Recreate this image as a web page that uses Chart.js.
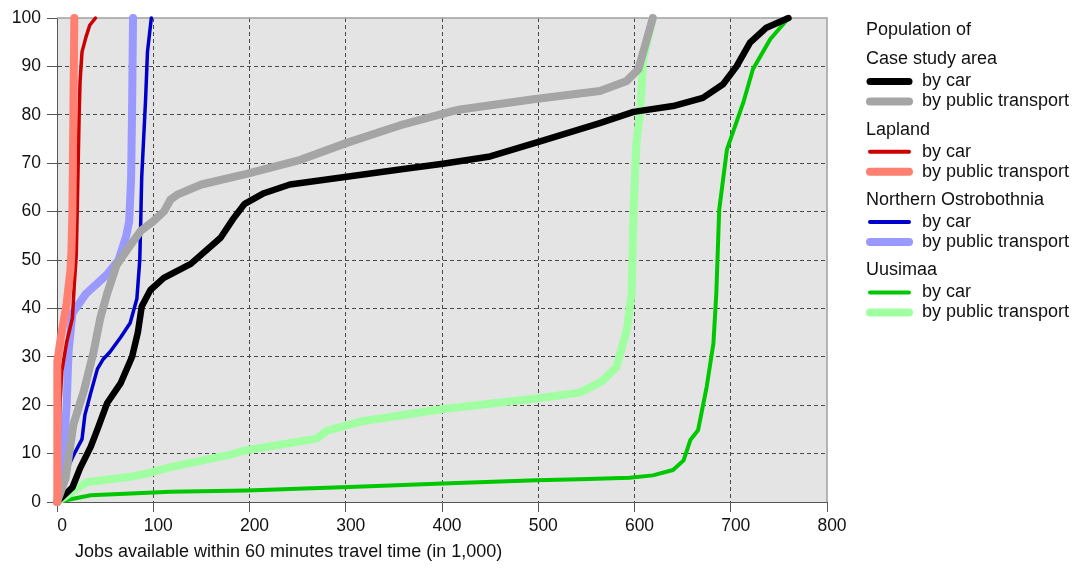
<!DOCTYPE html>
<html>
<head>
<meta charset="utf-8">
<script src="https://cdn.jsdelivr.net/npm/chart.js@4.4.1/dist/chart.umd.min.js"></script>
<style>
html,body{margin:0;padding:0;background:#fff;}
#wrap{width:1077px;height:568px;position:relative;}
</style>
</head>
<body>
<div id="wrap"><canvas id="chart" width="1077" height="568"></canvas></div>
<script>
// x = jobs (1,000), y = share of population (%)
const caseCar = [[0,0],[8,1.5],[16,3],[24,7],[35,11.4],[42,15],[52,20.4],[66,24.5],[78,30],[84,35],[88,40.4],[97,43.8],[111,46.3],[139,49.2],[170,54.6],[183,58.5],[195,61.6],[215,63.8],[242,65.6],[301,67.2],[356,68.7],[401,69.9],[450,71.4],[502,74.5],[564,78.3],[599,80.6],[640,81.8],[671,83.5],[692,86.3],[706,90],[720,94.9],[737,98],[760,100]];
const casePt = [[0,0],[9,5],[17,16],[28,23],[38,31],[45,38],[52,43],[62,49],[76,53],[87,56],[100,58],[111,60],[118,62.5],[125,63.5],[150,65.6],[197,67.8],[253,70.7],[301,74.2],[356,77.8],[410,80.7],[419,81.1],[495,83.2],[564,84.9],[592,87],[604,89.4],[619,100]];
const laplandCar = [[0,0],[2,10],[3,20],[5,27],[10,33],[16,38],[18,45],[20,51],[21,60],[22,70],[23,80],[24,87],[26,93],[30,96],[34,98.5],[40,100]];
const laplandPt = [[0,0],[0,10],[0,20],[1,29],[4,34],[10,41],[14,48],[15,52],[16,60],[17,80],[18,100]];
const northCar = [[0,0],[5,3],[10,6.6],[18,10],[26,13],[29,18],[35,22.5],[42,27.5],[48,29.5],[55,31],[66,34],[76,37],[83,42],[86,50],[87,58],[88,67],[90,75],[92,83],[94,93],[98,100]];
const northPt = [[0,0],[4,5],[7,11],[10,20],[12,31],[16,39],[30,43],[52,47],[64,50],[72,55],[75,58],[77,67],[78,81],[79,100]];
const uusiCar = [[0,0],[35,1.4],[118,2.1],[197,2.4],[318,3.2],[401,3.8],[498,4.5],[543,4.7],[595,5.0],[619,5.5],[640,6.6],[651,8.6],[658,12.8],[666,14.8],[675,23.8],[682,32.8],[685,43.1],[688,60.4],[696,72.8],[713,82.5],[723,89.4],[741,95.6],[760,100]];
const uusiPt = [[0,0],[31,4.1],[76,5.2],[94,5.9],[118,7.2],[180,9.8],[197,10.7],[270,13.1],[280,14.7],[317,16.7],[401,19.2],[498,21.4],[543,22.6],[566,24.9],[581,27.8],[592,35.5],[597,43.1],[599,60.4],[602,74.2],[606,81.1],[609,91.4],[619,100]];

const xTicks = [0,100,200,300,400,500,600,700,800];
const yTicks = [0,10,20,30,40,50,60,70,80,90,100];

const legendTitle = "Population of";
const groups = ["Case study area","Lapland","Northern Ostrobothnia","Uusimaa"];
const modes = ["by car","by public transport"];
const xTitle = "Jobs available within 60 minutes travel time (in 1,000)";

const FONT = "'Liberation Sans', Arial, sans-serif";

function line(pts, color, width, order){
  return {
    label: "",
    data: pts.map(p=>({x:p[0], y:p[1]})),
    borderColor: color,
    backgroundColor: color,
    borderWidth: width,
    pointRadius: 0,
    pointHoverRadius: 0,
    tension: 0,
    fill: false,
    borderCapStyle: "round",
    borderJoinStyle: "round",
    clip: false,
    order: order
  };
}

const datasets = [
  line(caseCar, "#000000", 6.5, 3),
  line(casePt, "#a5a5a5", 8, 2),
  line(laplandCar, "#cc0000", 3.5, 1),
  line(laplandPt, "#ff8070", 8, 0),
  line(northCar, "#0000cc", 3.5, 5),
  line(northPt, "#9999ff", 8, 4),
  line(uusiCar, "#00c800", 4, 7),
  line(uusiPt, "#a0ffa0", 8, 6)
];

const edge = (ctx, lo, hi) => (ctx.tick && (ctx.tick.value === lo || ctx.tick.value === hi)) ? "rgba(0,0,0,0)" : "#4a4a4a";

const deco = {
  id: "deco",
  beforeDraw(chart){
    const {ctx, chartArea:a} = chart;
    ctx.save();
    ctx.fillStyle = "#e4e4e4";
    ctx.fillRect(a.left, a.top, a.right - a.left, a.bottom - a.top);
    ctx.restore();
  },
  beforeDatasetsDraw(chart){
    const {ctx, chartArea:a} = chart;
    ctx.save();
    ctx.strokeStyle = "#a0a0a0";
    ctx.lineWidth = 1.5;
    ctx.beginPath();
    ctx.moveTo(a.left, a.top);
    ctx.lineTo(a.right, a.top);
    ctx.lineTo(a.right, a.bottom);
    ctx.stroke();
    ctx.restore();
  },
  afterDraw(chart){
    const ctx = chart.ctx;
    ctx.save();
    ctx.fillStyle = "#111";
    ctx.font = "18px " + FONT;
    ctx.textBaseline = "middle";
    ctx.textAlign = "left";
    ctx.fillText(xTitle, 75, 552);

    // legend
    const lx = 866, tx = 922;
    ctx.fillText(legendTitle, lx, 30);
    let y = 59.5;
    groups.forEach((g, gi) => {
      ctx.fillStyle = "#111";
      ctx.fillText(g, lx, y);
      modes.forEach((m, mi) => {
        const ds = chart.data.datasets[gi*2 + mi];
        const ry = y + 22 + mi*20;
        ctx.strokeStyle = ds.borderColor;
        ctx.lineWidth = mi === 0 ? (gi === 0 ? 7 : 4) : 8;
        ctx.lineCap = "round";
        ctx.beginPath();
        ctx.moveTo(lx + 4, ry);
        ctx.lineTo(lx + 43, ry);
        ctx.stroke();
        ctx.fillStyle = "#111";
        ctx.fillText(m, tx, ry);
      });
      y += 70.3;
    });
    ctx.restore();
  }
};

new Chart(document.getElementById("chart"), {
  type: "line",
  data: { datasets: datasets },
  options: {
    responsive: false,
    animation: false,
    events: [],
    layout: { padding: { left: 0, top: 18, right: 250, bottom: 0 } },
    plugins: { legend: { display: false }, tooltip: { enabled: false } },
    scales: {
      x: {
        type: "linear",
        min: 0, max: 800,
        afterBuildTicks: s => { s.ticks = xTicks.map(v => ({value: v})); },
        afterFit: s => { s.height = 66; },
        ticks: { color: "#111", font: { family: FONT, size: 17.5 }, padding: 4, labelOffset: 5, maxRotation: 0 },
        grid: { color: c => edge(c, 0, 800), tickColor: "#555", tickLength: 10, lineWidth: 1 },
        border: { color: "#555", width: 1, dash: [4, 3] }
      },
      y: {
        min: 0, max: 100,
        afterBuildTicks: s => { s.ticks = yTicks.map(v => ({value: v})); },
        afterFit: s => { s.width = 57; },
        ticks: { color: "#111", font: { family: FONT, size: 17.5 }, padding: 6 },
        grid: { color: c => edge(c, 0, 100), tickColor: "#555", tickLength: 10, lineWidth: 1 },
        border: { color: "#555", width: 1, dash: [4, 3] }
      }
    }
  },
  plugins: [deco]
});
</script>
</body>
</html>
